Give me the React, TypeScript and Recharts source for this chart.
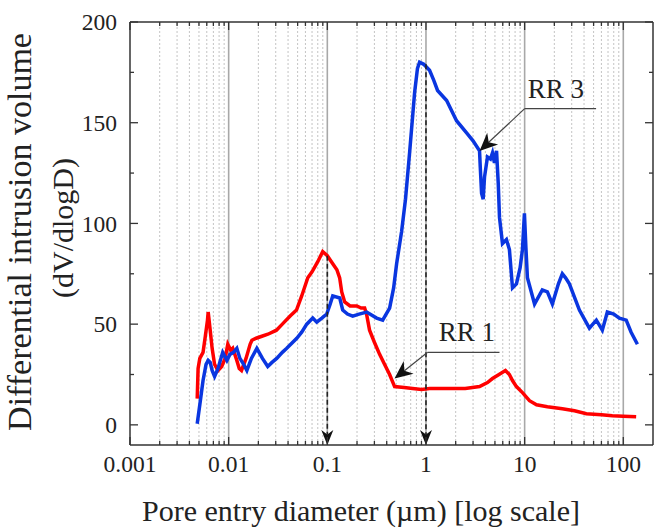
import React from "react";
import { LineChart, Line, XAxis, YAxis, ReferenceLine } from "recharts";

// pore entry diameter (µm) vs dV/dlogD
const RR1_DIAMETER = [
  0.0048, 0.0049, 0.0051, 0.0055, 0.0058, 0.0061, 0.0062, 0.0064, 0.0068, 0.0072, 0.0078, 0.0085,
  0.0092, 0.0098, 0.0105, 0.011, 0.0121, 0.0128, 0.0135, 0.015, 0.0165, 0.0172, 0.019, 0.0217,
  0.025, 0.0305, 0.035, 0.042, 0.0487, 0.055, 0.0634, 0.07, 0.08, 0.0898, 0.1, 0.1135, 0.125,
  0.1334, 0.14, 0.15, 0.17, 0.199, 0.22, 0.239, 0.25, 0.268, 0.3, 0.339, 0.39, 0.428, 0.481, 0.6,
  0.731, 0.9, 1.09, 1.5, 2.5, 3.49, 4.2, 4.72, 5.5, 6.39, 7.0, 7.53, 8.26, 9.5, 11.2, 13.2, 17,
  24.1, 32, 42.2, 60, 77.4, 100, 135,
];
const RR1_VOLUME = [
  13, 28, 33, 36, 44, 52, 56, 50, 38, 30, 27, 29,
  33, 40, 37, 38, 32, 28, 27, 33, 40, 42, 43, 44,
  45, 47, 50, 54, 57, 64, 73, 76, 81, 86, 84, 80, 77,
  73, 66, 61, 59, 59, 58, 58, 55, 47, 41, 35, 29, 25, 19, 18.5,
  18, 17.5, 18, 18, 18, 19, 21, 23, 25, 27, 25, 22, 19, 16, 12, 10, 9,
  8, 7, 5.5, 5, 4.5, 4.3, 4,
];

const RR3_DIAMETER = [
  0.0048, 0.0051, 0.0055, 0.0059, 0.0062, 0.0065, 0.0068, 0.0072, 0.0078, 0.0087, 0.0096, 0.0103,
  0.0112, 0.0121, 0.013, 0.0142, 0.0153, 0.017, 0.0193, 0.022, 0.0249, 0.0275, 0.0307, 0.035,
  0.0388, 0.049, 0.055, 0.0619, 0.0712, 0.0781, 0.088, 0.0986, 0.107, 0.1135, 0.1336, 0.1432, 0.16,
  0.1808, 0.21, 0.2506, 0.316, 0.364, 0.428, 0.47, 0.504, 0.566, 0.62, 0.682, 0.767, 0.82, 0.861,
  0.95, 1.087, 1.2, 1.31, 1.62, 2.04, 2.58, 3.0, 3.49, 3.55, 3.66, 3.8, 3.92, 4.2, 4.5, 4.72, 4.94,
  5.19, 5.4, 5.56, 5.96, 6.54, 7.01, 7.53, 8.26, 9.0, 9.5, 9.95, 10.3, 10.67, 12.6, 15.1, 17, 19.1,
  22, 24.1, 26, 28.4, 35.9, 45.3, 53.3, 61.3, 68.9, 80, 91.2, 107, 120, 139,
];
const RR3_VOLUME = [
  0.5, 10, 22, 30, 32, 31, 27, 24, 28, 36, 32, 35,
  36, 38, 33, 30, 27, 33, 38, 33, 29, 31, 33, 36,
  38, 43, 46, 50, 53, 51, 53, 55, 60, 64, 63, 57, 55,
  54, 55, 56, 53, 52, 58, 68, 80, 96, 112, 135, 165, 177, 180,
  179, 176, 171, 166, 161, 151, 145, 141, 136, 128, 115, 112, 123, 133, 132, 135, 130,
  136, 120, 103, 90, 92, 87, 68, 70, 78, 87, 105, 88, 73, 60, 67, 66, 60,
  70, 75, 73, 70, 57, 48, 52, 47, 56, 55, 53, 52, 46, 40,
];

const X_MAJOR = [0.001, 0.01, 0.1, 1, 10, 100];
const X_LABELS = ["0.001", "0.01", "0.1", "1", "10", "100"];
const X_MINOR = X_MAJOR.slice(0, 5).flatMap((d) => [2, 3, 4, 5, 6, 7, 8, 9].map((m) => +(m * d).toPrecision(3)));
const Y_TICKS = [0, 25, 50, 75, 100, 125, 150, 175, 200];
const Y_LABELS = [0, 50, 100, 150, 200];

const rr1 = RR1_DIAMETER.map((d, i) => ({ d, v: RR1_VOLUME[i] }));
const rr3 = RR3_DIAMETER.map((d, i) => ({ d, v: RR3_VOLUME[i] }));

const W = 654;
const H = 528;
const TOP = 22;
const BOTTOM = 445;
const LEFT = 130;
const RIGHT = 653;
const FONT = "'Liberation Serif', 'Times New Roman', serif";
const INK = "#333";

function arrowHead(fx: number, fy: number, tx: number, ty: number, len = 14, half = 5) {
  const dx = tx - fx;
  const dy = ty - fy;
  const l = Math.hypot(dx, dy) || 1;
  const ux = dx / l;
  const uy = dy / l;
  const nx = -uy;
  const ny = ux;
  const bx = tx - len * ux;
  const by = ty - len * uy;
  const mx = tx - len * 0.7 * ux;
  const my = ty - len * 0.7 * uy;
  return {
    d: `M${tx},${ty} L${bx + half * nx},${by + half * ny} L${mx},${my} L${bx - half * nx},${by - half * ny} Z`,
    mx,
    my,
  };
}

const dashedArrow = (p: any) => {
  const h = arrowHead(p.x1, p.y1, p.x2, p.y2, 15, 6);
  return (
    <g>
      <line x1={p.x1} y1={p.y1} x2={h.mx} y2={h.my} stroke="#222" strokeWidth={1.6} strokeDasharray="5 3" />
      <path d={h.d} fill="#111" />
    </g>
  );
};

const leaderArrow = (p: any) => {
  const h = arrowHead(p.x1, p.y1, p.x2, p.y2, 18, 8);
  return (
    <g>
      <line x1={p.x1} y1={p.y1} x2={h.mx} y2={h.my} stroke="#444" strokeWidth={1.2} />
      <path d={h.d} fill="#111" />
    </g>
  );
};

const leaderLabel = (text: string, dx: number) => (p: any) => (
  <g>
    <line x1={p.x1} y1={p.y1} x2={p.x2} y2={p.y2} stroke="#444" strokeWidth={1.2} />
    <text x={p.x1 + dx} y={p.y1 - 11} fontSize={27} fontFamily={FONT} fill="#222">
      {text}
    </text>
  </g>
);

const XTick = (props: any) => {
  const { x, payload } = props;
  const idx = X_MAJOR.indexOf(payload.value);
  const len = idx >= 0 ? 8 : 4;
  return (
    <g>
      <line x1={x} x2={x} y1={BOTTOM} y2={BOTTOM - len} stroke={INK} strokeWidth={1.3} />
      <line x1={x} x2={x} y1={TOP} y2={TOP + len} stroke={INK} strokeWidth={1.3} />
      {idx >= 0 && (
        <text x={x} y={BOTTOM + 27} textAnchor="middle" fontSize={23.5} fontFamily={FONT} fill="#222">
          {X_LABELS[idx]}
        </text>
      )}
    </g>
  );
};

const YTick = (props: any) => {
  const { y, payload } = props;
  const major = Y_LABELS.includes(payload.value);
  const len = major ? 8 : 4;
  return (
    <g>
      <line x1={LEFT} x2={LEFT + len} y1={y} y2={y} stroke={INK} strokeWidth={1.3} />
      <line x1={RIGHT} x2={RIGHT - len} y1={y} y2={y} stroke={INK} strokeWidth={1.3} />
      {major && (
        <text x={LEFT - 13} y={y} dy="0.35em" textAnchor="end" fontSize={23.5} fontFamily={FONT} fill="#222">
          {payload.value}
        </text>
      )}
    </g>
  );
};

export default function App() {
  return (
    <div style={{ position: "absolute", left: 0, top: 0, background: "#fff" }}>
      <LineChart width={W} height={H} margin={{ top: TOP, right: W - RIGHT, bottom: 0, left: 0 }}>
        <XAxis
          type="number"
          dataKey="d"
          scale="log"
          domain={[0.001, 200]}
          allowDataOverflow
          ticks={[...X_MAJOR, ...X_MINOR]}
          interval={0}
          tick={<XTick />}
          tickLine={false}
          axisLine={{ stroke: INK, strokeWidth: 1.5 }}
          height={H - BOTTOM}
          label={{
            content: () => (
              <text x={361} y={521} textAnchor="middle" fontSize={30} fontFamily={FONT} fill="#222">
                Pore entry diameter (µm) [log scale]
              </text>
            ),
          }}
        />
        <YAxis
          type="number"
          domain={[-10, 200]}
          allowDataOverflow
          ticks={Y_TICKS}
          interval={0}
          tick={<YTick />}
          tickLine={false}
          axisLine={{ stroke: INK, strokeWidth: 1.5 }}
          width={LEFT}
          label={{
            content: () => (
              <g fontFamily={FONT} fill="#222" textAnchor="middle">
                <text x={31} y={232} fontSize={34} transform="rotate(-90, 31, 232)">
                  Differential intrusion volume
                </text>
                <text x={73} y={228} fontSize={30} transform="rotate(-90, 73, 228)">
                  (dV/dlogD)
                </text>
              </g>
            ),
          }}
        />

        {X_MINOR.map((v) => (
          <ReferenceLine key={"m" + v} x={v} stroke="#c4c4c4" strokeWidth={1} strokeDasharray="2 2" />
        ))}
        {X_MAJOR.slice(1).map((v) => (
          <ReferenceLine key={"M" + v} x={v} stroke="#a8a8a8" strokeWidth={1.6} />
        ))}
        <ReferenceLine y={200} stroke={INK} strokeWidth={1.5} />
        <ReferenceLine x={200} stroke={INK} strokeWidth={1.5} />

        <Line data={rr1} dataKey="v" type="linear" stroke="#ff0000" strokeWidth={3.5} dot={false} isAnimationActive={false} />
        <Line data={rr3} dataKey="v" type="linear" stroke="#0a36e0" strokeWidth={3.5} dot={false} isAnimationActive={false} />

        <ReferenceLine segment={[{ x: 0.1, y: 84 }, { x: 0.1, y: -10 }]} shape={dashedArrow} />
        <ReferenceLine segment={[{ x: 1, y: 179 }, { x: 1, y: -10 }]} shape={dashedArrow} />

        <ReferenceLine segment={[{ x: 10, y: 157 }, { x: 53, y: 157 }]} shape={leaderLabel("RR 3", 3)} />
        <ReferenceLine segment={[{ x: 10, y: 157 }, { x: 3.49, y: 136 }]} shape={leaderArrow} />
        <ReferenceLine segment={[{ x: 1.04, y: 36 }, { x: 5.56, y: 36 }]} shape={leaderLabel("RR 1", 11)} />
        <ReferenceLine segment={[{ x: 1.04, y: 36 }, { x: 0.48, y: 23 }]} shape={leaderArrow} />
      </LineChart>
    </div>
  );
}
